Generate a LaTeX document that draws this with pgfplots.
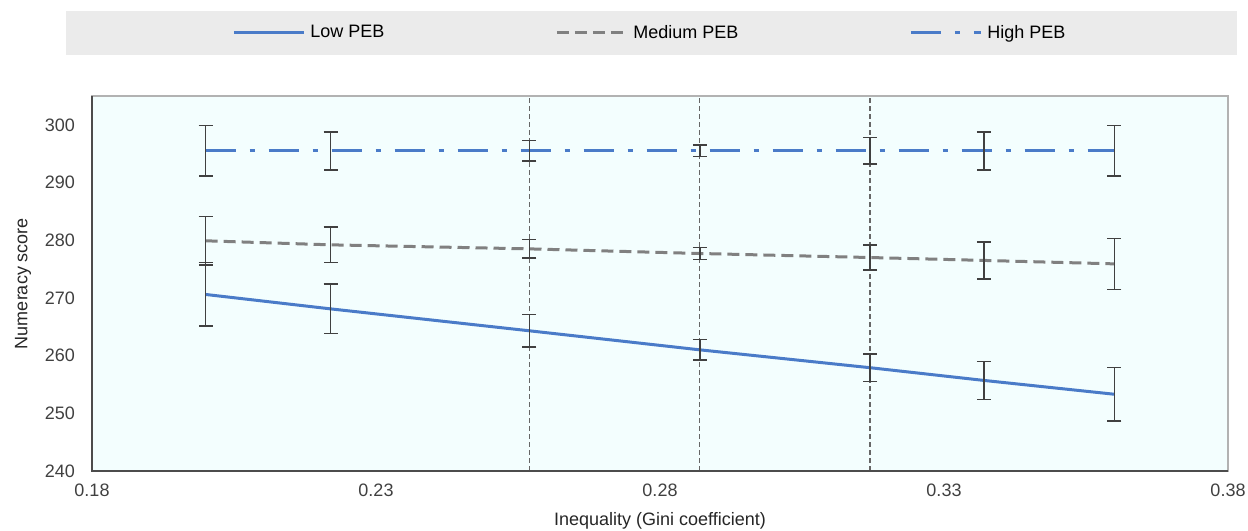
\documentclass[border=0pt]{standalone}
\usepackage{pgfplots}
\pgfplotsset{compat=1.18}
\usepackage{fontspec}
\setmainfont{Liberation Sans}
\definecolor{lowblue}{HTML}{4A7BC8}
\definecolor{medgray}{HTML}{808080}
\definecolor{bgcyan}{HTML}{F3FEFE}
\definecolor{legbg}{HTML}{EBEBEB}
\definecolor{errc}{HTML}{404040}
\definecolor{txt}{HTML}{404040}
\begin{document}
\begin{tikzpicture}
\begin{axis}[
  scale only axis,
  width=568pt, height=187.5pt,
  xmin=0.18, xmax=0.38, ymin=240, ymax=305,
  xtick={0.18,0.23,0.28,0.33,0.38},
  ytick={240,250,260,270,280,290,300},
  xticklabel style={/pgf/number format/fixed, /pgf/number format/fixed zerofill, /pgf/number format/precision=2, yshift=-3pt},
  /pgf/number format/assume math mode=true,
  major tick length=0pt,
  tick label style={font=\fontsize{9}{10}\selectfont, text=txt},
  label style={font=\fontsize{9}{10}\selectfont, text=black!85},
  xlabel={Inequality (Gini coefficient)},
  ylabel={Numeracy score},
  yticklabel style={xshift=-5pt},
  xlabel style={yshift=-1pt},
  ylabel style={yshift=0pt},
  axis background/.style={fill=bgcyan},
  axis line style={gray!60, line width=0.6pt},
  error bars/error bar style={errc, solid, line width=0.75pt},
  error bars/error mark options={errc, solid, rotate=90, mark size=3.5pt, line width=0.75pt},
  legend columns=3,
  legend style={at={(0.4925,1.168)}, anchor=center, fill=legbg, draw=none,
    font=\fontsize{9}{10}\selectfont, inner xsep=83pt, inner ysep=5pt,
    nodes={inner xsep=2.5pt},
    /tikz/every even column/.append style={column sep=83pt}},
  legend image code/.code={\draw[#1] (0pt,0pt) -- (35pt,0pt);},
  clip=false,
]
\coordinate (ll) at (rel axis cs:0,0);
\coordinate (ur) at (rel axis cs:1,1);
% vertical dashed reference lines
\addplot[forget plot, black!60, line width=0.7pt, dash pattern=on 2.5pt off 1.5pt] coordinates {(0.257,240) (0.257,305)};
\addplot[forget plot, black!60, line width=0.7pt, dash pattern=on 2.5pt off 1.5pt] coordinates {(0.287,240) (0.287,305)};
\addplot[forget plot, black!60, line width=0.7pt, dash pattern=on 2.5pt off 1.5pt] coordinates {(0.317,240) (0.317,305)};

\addplot[lowblue, line width=1.5pt, no marks,
  error bars/.cd, y dir=both, y explicit]
  coordinates {
  (0.200,270.6) +- (0,5.5)
  (0.222,268.1) +- (0,4.3)
  (0.257,264.3) +- (0,2.8)
  (0.287,261.0) +- (0,1.8)
  (0.317,257.9) +- (0,2.4)
  (0.337,255.7) +- (0,3.3)
  (0.360,253.3) +- (0,4.6)
  };
\addlegendentry{Low PEB}

\addplot[medgray, line width=1.5pt, no marks, dash pattern=on 6pt off 3pt,
  error bars/.cd, y dir=both, y explicit]
  coordinates {
  (0.200,279.9) +- (0,4.2)
  (0.222,279.2) +- (0,3.1)
  (0.257,278.5) +- (0,1.6)
  (0.287,277.7) +- (0,1.0)
  (0.317,277.0) +- (0,2.2)
  (0.337,276.5) +- (0,3.2)
  (0.360,275.9) +- (0,4.4)
  };
\addlegendentry{Medium PEB}

\addplot[lowblue, line width=1.5pt, no marks, dash pattern=on 15pt off 7pt on 2.5pt off 7pt,
  error bars/.cd, y dir=both, y explicit]
  coordinates {
  (0.200,295.5) +- (0,4.4)
  (0.222,295.5) +- (0,3.3)
  (0.257,295.5) +- (0,1.8)
  (0.287,295.5) +- (0,1.0)
  (0.317,295.5) +- (0,2.3)
  (0.337,295.5) +- (0,3.3)
  (0.360,295.5) +- (0,4.4)
  };
\addlegendentry{High PEB}
\draw[black!70, line width=0.7pt] (rel axis cs:0,1) -- (rel axis cs:0,0) -- (rel axis cs:1,0);
\end{axis}
\pgfresetboundingbox
\path ([xshift=-46pt,yshift=-30pt]ll) rectangle ([xshift=10pt,yshift=48pt]ur);
\end{tikzpicture}
\end{document}
